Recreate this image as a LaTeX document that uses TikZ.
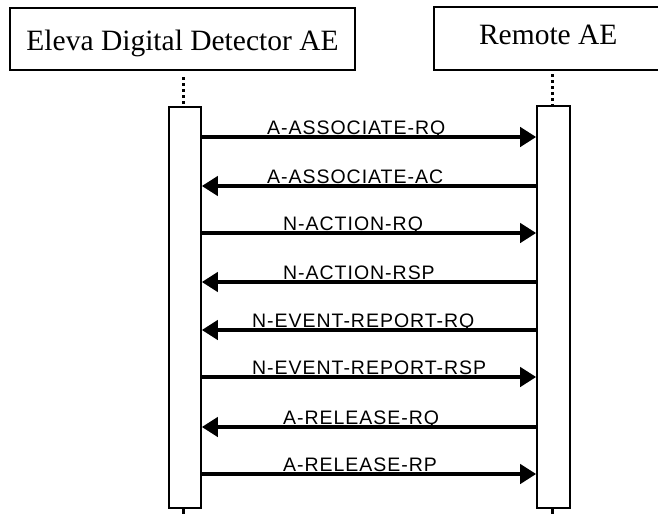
\documentclass[tikz,border=0pt]{standalone}
\usepackage{fontspec}
\setmainfont{Liberation Serif}
\newfontfamily\lblfont[LetterSpace=5]{Liberation Sans}
\usetikzlibrary{arrows.meta}
\tikzset{
  hdr/.style={draw, line width=1.5pt, inner sep=0pt, font=\fontsize{29.5}{30}\selectfont},
  actbox/.style={draw, line width=1.6pt, fill=white, inner sep=0pt, anchor=north},
  life/.style={line width=3pt, dash pattern=on 3pt off 3pt},
  tail/.style={line width=3pt},
  msgbase/.style={line width=4.5pt},
  msgr/.style={msgbase, -{Triangle[length=16pt,width=19pt]}},
  msgl/.style={msgbase, {Triangle[length=16pt,width=19pt]}-},
  lbl/.style={font=\lblfont\fontsize{19.5}{20}\selectfont, anchor=base west, inner sep=0pt}
}
\begin{document}
\begin{tikzpicture}[x=1pt,y=-1pt]
\useasboundingbox (0,0) rectangle (658,514);
% headers
\node[hdr, minimum width=345pt, minimum height=62pt, text height=24pt, text depth=2pt] (L) at (182.5,39) {Eleva Digital Detector AE};
\node[hdr, minimum width=236pt, minimum height=63pt, text height=18pt, text depth=6pt, anchor=west] (R) at (433,38.5) {\hspace*{-7pt}Remote AE};
% activation boxes
\node[actbox, minimum width=32pt, minimum height=401pt] (la) at (185,106) {};
\node[actbox, minimum width=33pt, minimum height=402pt] (ra) at (553.5,105) {};
% lifelines
\coordinate (lt) at (183,77);
\coordinate (rt) at (552,74);
\coordinate (lb) at (183,514);
\coordinate (rb) at (552,514);
\draw[life] (lt) -- (lt |- la.north);
\draw[life] (rt) -- (rt |- ra.north);
\draw[tail] (lt |- la.south) -- (lb);
\draw[tail] (rt |- ra.south) -- (rb);
% messages
\foreach \y/\st/\x/\t in {
  137/msgr/267/A-ASSOCIATE-RQ,
  186/msgl/267/A-ASSOCIATE-AC,
  233/msgr/283/N-ACTION-RQ,
  282/msgl/283/N-ACTION-RSP,
  330/msgl/252/N-EVENT-REPORT-RQ,
  377/msgr/252/N-EVENT-REPORT-RSP,
  427/msgl/283/A-RELEASE-RQ,
  474/msgr/283/A-RELEASE-RP}{
  \coordinate (m) at (0,\y);
  \draw[\st] (la.east |- m) -- (ra.west |- m);
  \node[lbl] at (\x,\y-3) {\t};
}
\end{tikzpicture}
\end{document}
